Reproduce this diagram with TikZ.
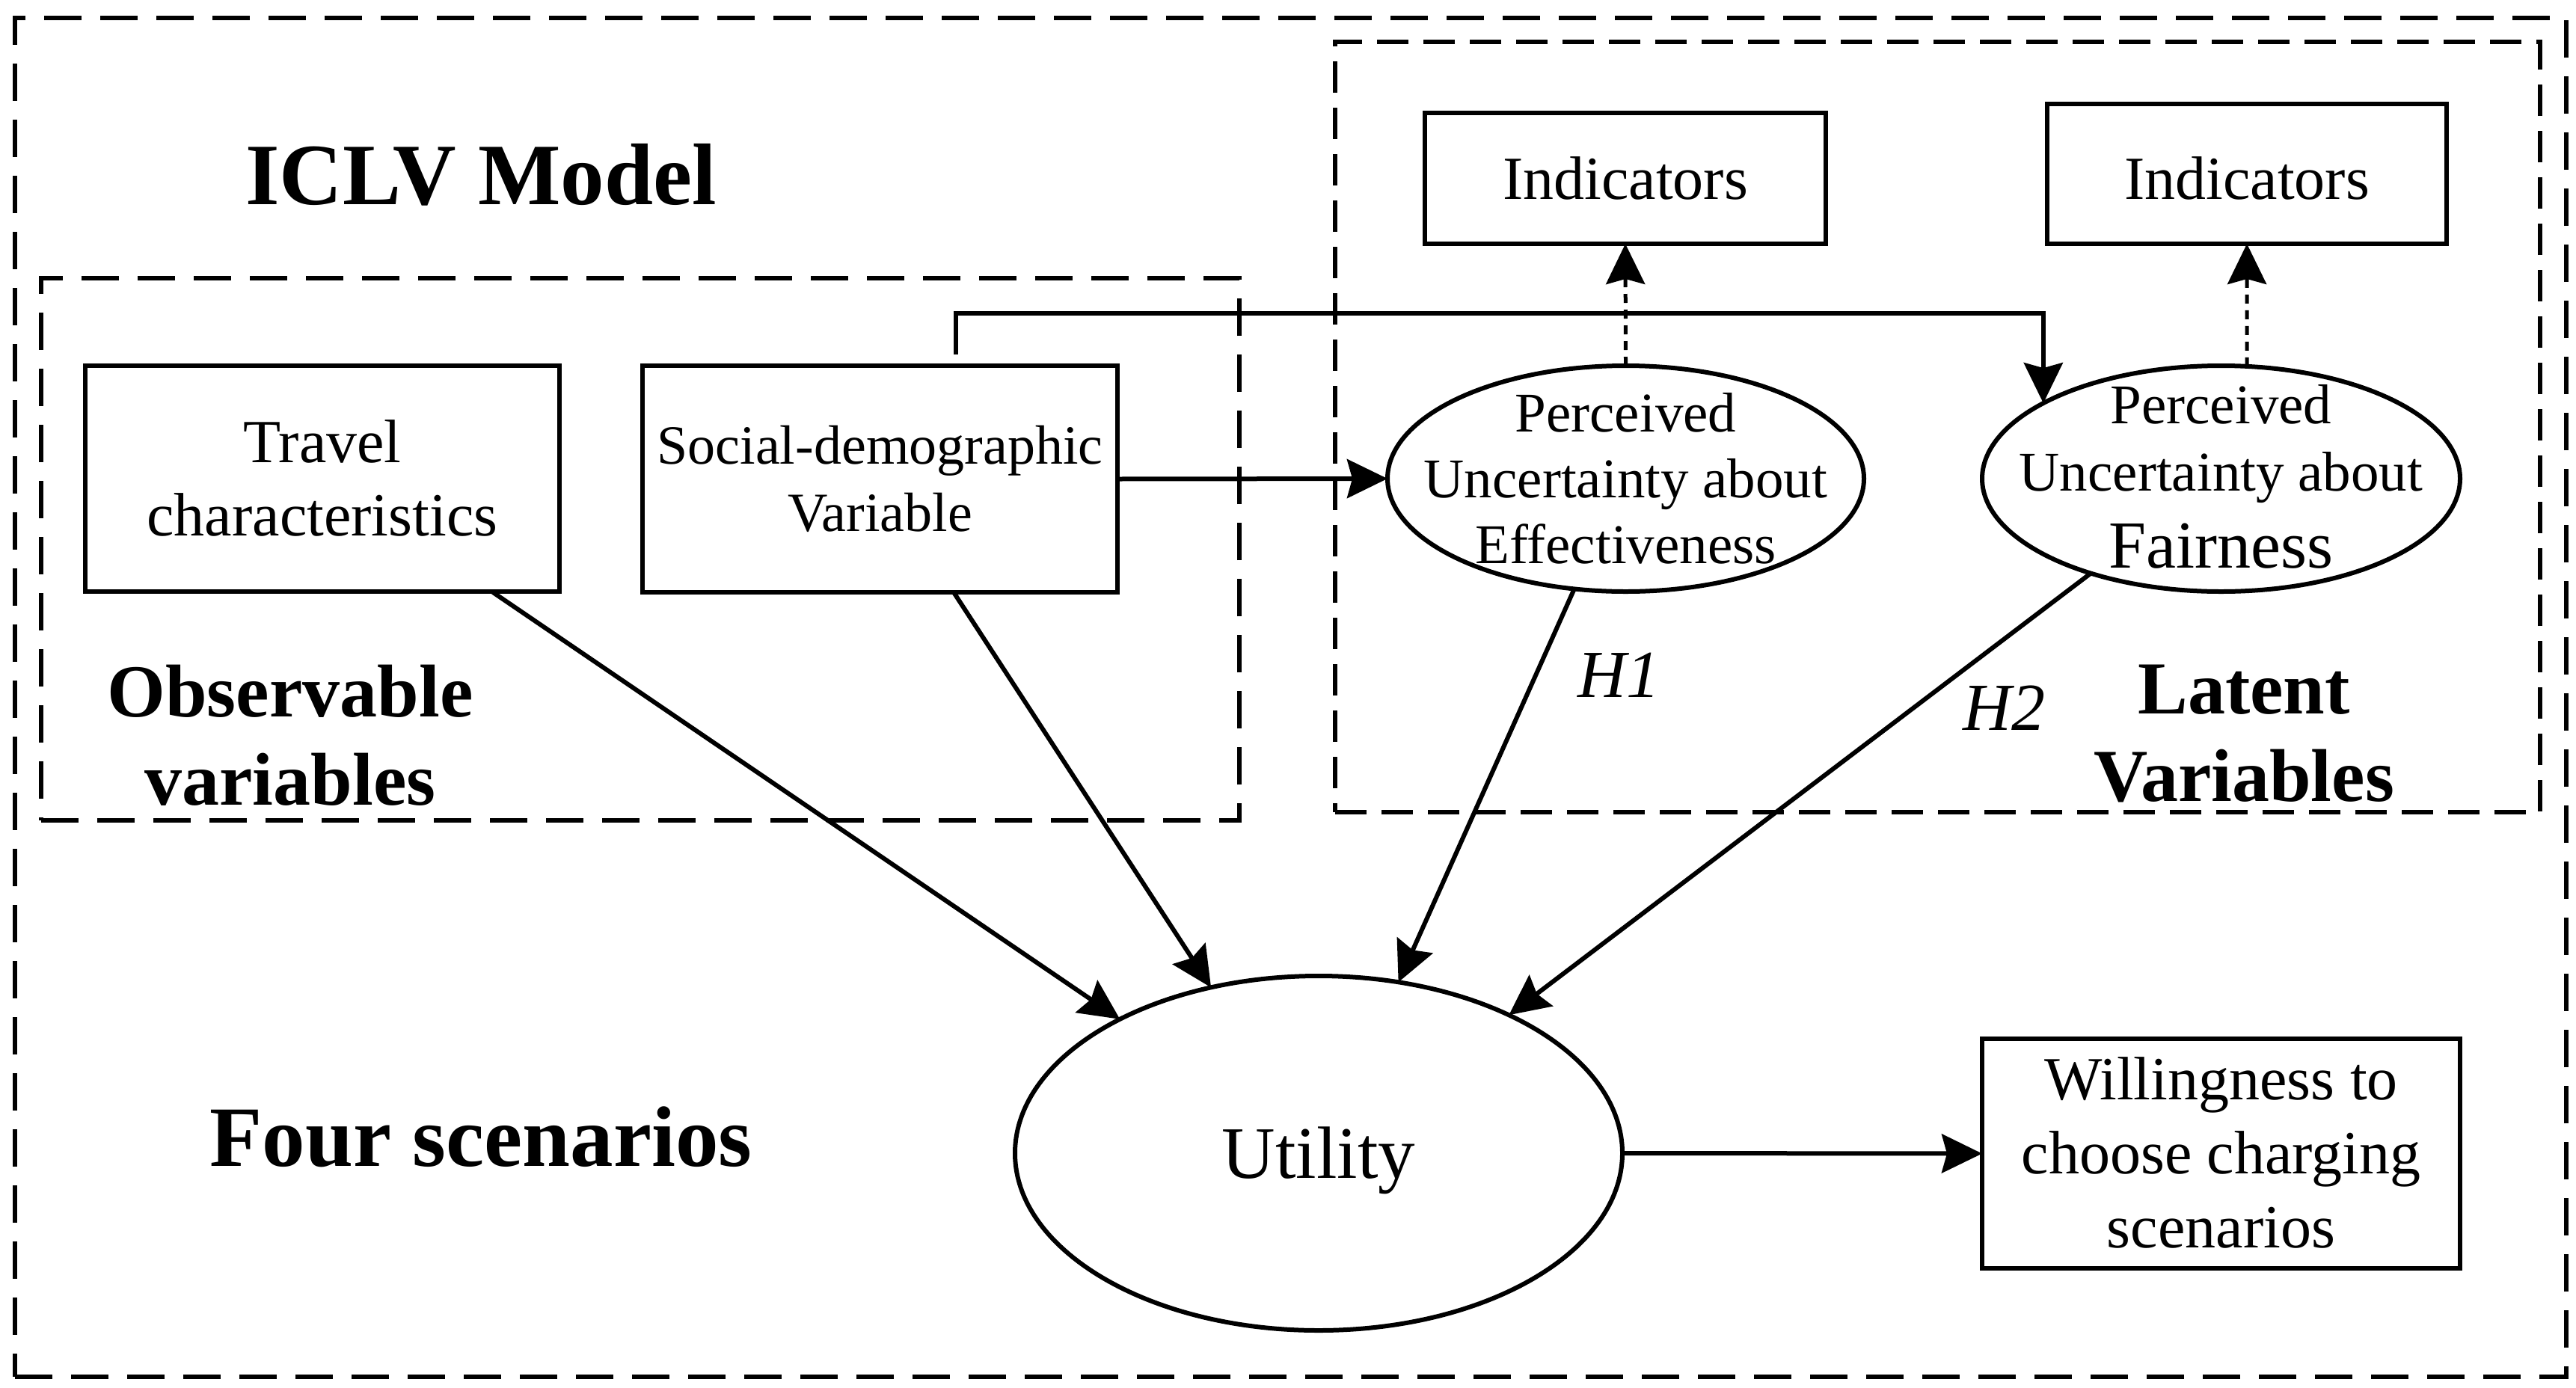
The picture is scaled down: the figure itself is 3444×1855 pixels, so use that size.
\documentclass[tikz,border=0pt]{standalone}
\usepackage{fontspec}
\setmainfont{Liberation Serif}
\usetikzlibrary{shapes.geometric,arrows.meta}
% zero-sized text block: size, line skip, raise of the first baseline, rows
\newcommand\txt[4]{\raisebox{#3pt}[0pt][0pt]{\makebox[0pt][c]{\fontsize{#1pt}{#2pt}\selectfont\begin{tabular}[t]{@{}c@{}}#4\end{tabular}}}}
\newcommand\sz[1]{\fontsize{#1pt}{#1pt}\selectfont}
\tikzset{
  shapebox/.style={draw,rectangle,inner sep=0pt,outer sep=0pt,line width=6pt},
  oval/.style={draw,ellipse,inner sep=0pt,outer sep=0pt,line width=6pt},
  frame/.style={draw,rectangle,inner sep=0pt,outer sep=0pt,line width=6pt,dash pattern=on 50pt off 25pt},
  label/.style={inner sep=0pt,outer sep=0pt},
  arrow/.style={-{Stealth[length=54pt,width=52pt,inset=7pt]},line width=6pt},
  dotarrow/.style={arrow,line width=5pt,dash pattern=on 12pt off 9pt},
}
\begin{document}
\begin{tikzpicture}[x=1pt,y=-1pt]
\path[fill=white,use as bounding box] (0,0) rectangle (3444,1855);
% frames
\node[frame,minimum width=3411pt,minimum height=1817pt] (outer) at (1725.5,932.5) {};
\node[frame,minimum width=1602pt,minimum height=725pt] (obs) at (856,734.5) {};
\node[frame,minimum width=1611pt,minimum height=1030pt,dash pattern=on 42pt off 20pt] (lat) at (2590.5,571) {};
% boxes
\node[shapebox,minimum width=634pt,minimum height=302pt] (travel) at (431,640) {\txt{82}{98}{22}{Travel\\characteristics}};
\node[shapebox,minimum width=635pt,minimum height=303pt] (social) at (1176.5,640.5) {\txt{74}{90}{20.5}{Social-demographic\\Variable}};
\node[shapebox,minimum width=536pt,minimum height=175pt] (indA) at (2173,238.5) {\txt{82}{90}{-27.5}{Indicators}};
\node[shapebox,minimum width=534pt,minimum height=187pt] (indB) at (3004,232.5) {\txt{82}{90}{-33.5}{Indicators}};
\node[shapebox,minimum width=639pt,minimum height=307pt] (will) at (2969.5,1542.5) {\txt{82}{99}{72.5}{Willingness to\\choose charging\\scenarios}};
% ellipses
\node[oval,minimum width=637pt,minimum height=302pt] (effect) at (2173.5,640) {\txt{75}{88}{63}{Perceived\\Uncertainty about\\Effectiveness}};
\node[oval,minimum width=639pt,minimum height=302pt] (fair) at (2969.5,640) {\txt{75}{90}{74}{Perceived\\Uncertainty about\\[13pt]{\sz{90}Fairness}}};
\node[oval,minimum width=812pt,minimum height=474pt] (util) at (1763,1542) {\txt{99}{110}{-33}{Utility}};
% labels
\node[label] (iclv) at (643,273) {\txt{117}{130}{0}{\bfseries ICLV Model}};
\node[label] (four) at (643,1559) {\txt{115}{130}{0}{\bfseries Four scenarios}};
\node[label] (obslab) at (388,958) {\txt{100}{118}{0}{\bfseries Observable\\\bfseries variables}};
\node[label] (latlab) at (3000,954) {\txt{100}{117}{0}{\bfseries Latent\\\bfseries Variables}};
\node[label] (hA) at (2164,932) {\txt{90}{100}{0}{\itshape H1}};
\node[label] (hB) at (2679,976) {\txt{90}{100}{0}{\itshape H2}};
% connectors
\coordinate (riser) at (1278,489);
\coordinate (bend) at (1278,419);
\draw[arrow,shorten <=15pt] (riser) -- (bend) -| (fair.157.6);
\draw[arrow] (social.east) -- (effect.west);
\draw[dotarrow] (effect.north) -- (indA.south);
\draw[dotarrow] (fair.77) -- (indB.south);
\coordinate (tstart) at (659,792);
\draw[arrow] (tstart) -- (util.146);
\coordinate (sstart) at (1275,792);
\draw[arrow] (sstart) -- (util.123);
\draw[arrow] (effect.245) -- (util.65.7);
\draw[arrow] (fair.216.8) -- (util.36.6);
\draw[arrow] (util.east) -- (will.west);
\end{tikzpicture}
\end{document}
